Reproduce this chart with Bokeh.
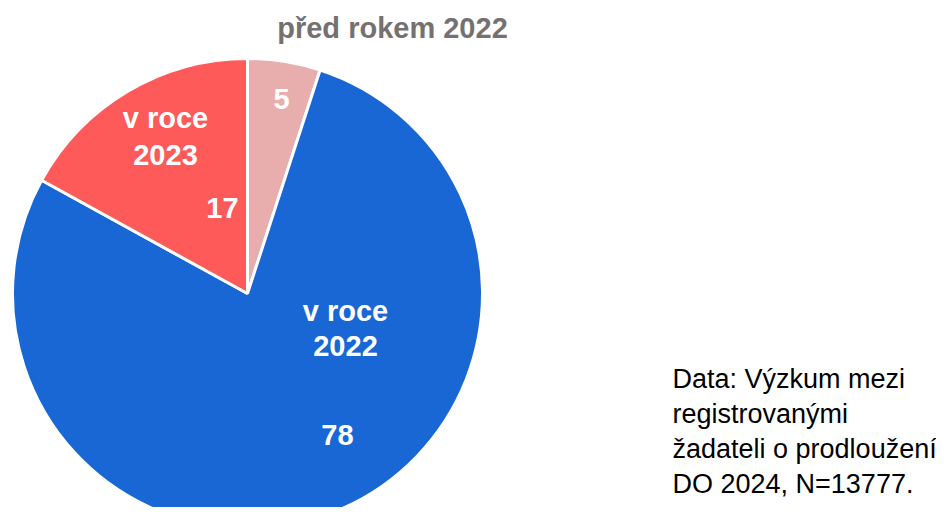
import math
from bokeh.plotting import figure
from bokeh.models import Range1d, ColumnDataSource
from bokeh.core.properties import value
from bokeh.embed import file_html
from bokeh.resources import INLINE

# data
categories = ["před rokem 2022", "v roce 2022", "v roce 2023"]
values = [5, 78, 17]
colors = ["#E8AEAE", "#1967D4", "#FF5A5A"]
title_text = "před rokem 2022"
note_lines = ["Data: Výzkum mezi", "registrovanými", "žadateli o prodloužení", "DO 2024, N=13777."]

W, H = 936, 507
p = figure(width=W, height=H, output_backend="svg", toolbar_location=None,
           x_range=Range1d(0, W), y_range=Range1d(0, H),
           min_border=0, background_fill_color="white", border_fill_color="white")
p.axis.visible = False
p.grid.visible = False
p.outline_line_color = None

# screen y -> data y
def sy(y):
    return H - y

cx, cy, r = 247, sy(293), 235
total = sum(values)
starts, ends = [], []
acc = 0.0
for v in values:
    a0 = math.pi / 2 - 2 * math.pi * acc / total
    acc += v
    a1 = math.pi / 2 - 2 * math.pi * acc / total
    starts.append(a0)
    ends.append(a1)

src = ColumnDataSource(dict(cat=categories, val=values, color=colors,
                            start=starts, end=ends))
p.wedge(x=cx, y=cy, radius=r, start_angle="start", end_angle="end",
        direction="clock", fill_color="color", line_color="white",
        line_width=3, source=src)

font = value("Liberation Sans")

def txt(x, y, s, size, color="white", bold=True, align="center"):
    p.text(x=[x], y=[sy(y)], text=[s], text_font=font,
           text_font_size=f"{size}px", text_font_style="bold" if bold else "normal",
           text_color=color, text_align=align, text_baseline="alphabetic")

dy = -9
# title
txt(392, 36 + dy, title_text, 29, color="#767171")
# slice labels
txt(281, 107 + dy, str(values[0]), 29)
txt(165, 126 + dy, "v roce", 29)
txt(165, 163 + dy, "2023", 29)
txt(222, 216 + dy, str(values[2]), 29)
txt(345, 319 + dy, "v roce", 29)
txt(345, 354 + dy, "2022", 29)
txt(337, 443 + dy, str(values[1]), 29)

# note
for i, line in enumerate(note_lines):
    txt(672, 386 - 8 + 35 * i, line, 27, color="black", bold=False, align="left")

open("out.html", "w").write(file_html(p, INLINE))
